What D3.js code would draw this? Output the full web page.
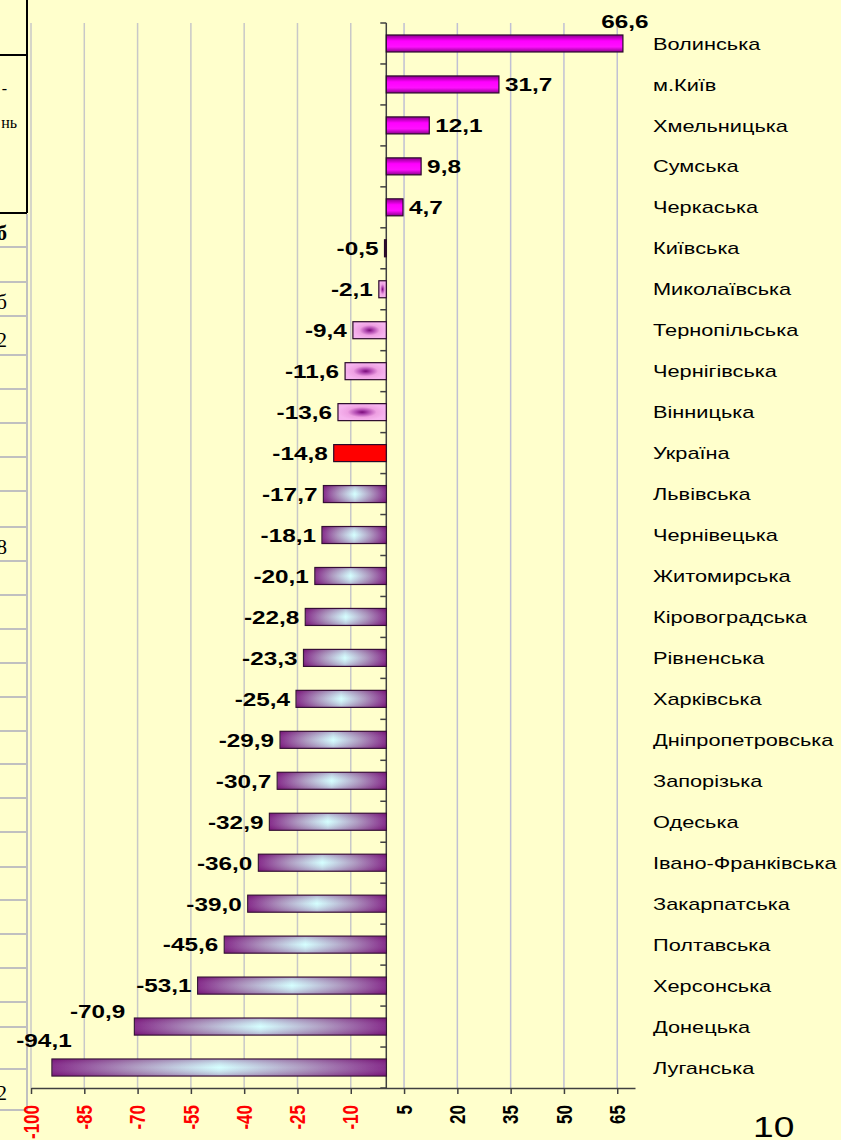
<!DOCTYPE html>
<html>
<head>
<meta charset="utf-8">
<script src="https://cdn.jsdelivr.net/npm/d3@7"></script>
<style>
  body { margin: 0; background: #ffffcc; }
  svg { display: block; }
  text { font-family: "Liberation Sans", Arial, sans-serif; }
</style>
</head>
<body>
<div id="chart"></div>
<script>
// Data
const regions = ["Волинська", "м.Київ", "Хмельницька", "Сумська", "Черкаська", "Київська",
  "Миколаївська", "Тернопільська", "Чернігівська", "Вінницька", "Україна", "Львівська",
  "Чернівецька", "Житомирська", "Кіровоградська", "Рівненська", "Харківська",
  "Дніпропетровська", "Запорізька", "Одеська", "Івано-Франківська", "Закарпатська",
  "Полтавська", "Херсонська", "Донецька", "Луганська"];
const changes = [66.6, 31.7, 12.1, 9.8, 4.7, -0.5, -2.1, -9.4, -11.6, -13.6, -14.8, -17.7,
  -18.1, -20.1, -22.8, -23.3, -25.4, -29.9, -30.7, -32.9, -36.0, -39.0, -45.6, -53.1,
  -70.9, -94.1];
const xTicks = [-100, -85, -70, -55, -40, -25, -10, 5, 20, 35, 50, 65];
const slideNumber = "10";

// fragments of a cut-off table on the left edge of the slide
const tableText = ["-", "нь", "б", "б", "2", "8", "2"];
const tableTextRows = [88, 122, 233, 302, 340, 547, 1093];
const tableRowLines = [247, 282, 316, 355, 389, 423, 457, 491, 527, 561, 595, 629, 663,
  697, 731, 764, 798, 832, 867, 900, 934, 968, 1002, 1027, 1069, 1110];

// Constants
const W = 841, H = 1140;
const plotTop = 23, plotBottom = 1088;
const STRETCH = 1.28; // slide text is stretched horizontally

const data = regions.map((r, i) => ({ name: r, value: changes[i] }));

const svg = d3.select("#chart").append("svg")
  .attr("width", W).attr("height", H)
  .style("background", "#ffffcc");

const defs = svg.append("defs");

// magenta bars (positive)
const gPos = defs.append("linearGradient").attr("id", "gPos")
  .attr("x1", 0).attr("y1", 0).attr("x2", 0).attr("y2", 1);
[[0, "#8a008a"], [0.35, "#ff00ff"], [0.7, "#ff10ff"], [1, "#8a008a"]].forEach(s =>
  gPos.append("stop").attr("offset", s[0]).attr("stop-color", s[1]));

// pink bars with dark centre
const gPink = defs.append("radialGradient").attr("id", "gPink")
  .attr("cx", 0.5).attr("cy", 0.5).attr("r", 0.5);
[[0, "#7a0a7a"], [0.25, "#b048b0"], [0.6, "#eea0e2"], [1, "#f6b4ee"]].forEach(s =>
  gPink.append("stop").attr("offset", s[0]).attr("stop-color", s[1]));

// purple -> cyan -> purple bars
const gNeg = defs.append("linearGradient").attr("id", "gNeg")
  .attr("x1", 0).attr("y1", 0).attr("x2", 1).attr("y2", 0);
[[0, "#780878"], [0.25, "#a88cb8"], [0.5, "#d4ffff"], [0.75, "#a88cb8"], [1, "#780878"]].forEach(s =>
  gNeg.append("stop").attr("offset", s[0]).attr("stop-color", s[1]));
const gShade = defs.append("linearGradient").attr("id", "gShade")
  .attr("x1", 0).attr("y1", 0).attr("x2", 0).attr("y2", 1);
[[0, "rgba(110,30,110,0.35)"], [0.5, "rgba(220,255,255,0.15)"], [1, "rgba(110,30,110,0.35)"]].forEach(s =>
  gShade.append("stop").attr("offset", s[0]).attr("stop-color", s[1]));

//-----------------------------SCALES-----------------------------//
const x = d3.scaleLinear().domain([-100, 70]).range([31, 635]);
const y = d3.scaleBand().domain(regions).range([plotTop, plotBottom]).paddingInner(0).paddingOuter(0);
const barH = 17;
const fmt = v => d3.format(".1f")(v).replace(".", ",").replace("\u2212", "-");

function stretchedText(g, px, py, rot) {
  return g.append("text")
    .attr("transform", `translate(${px},${py}) scale(${STRETCH},1)` + (rot ? ` rotate(${rot})` : ""));
}

//--------------------------LEFT TABLE----------------------------//
const tbl = svg.append("g");
tbl.append("line").attr("x1", 27).attr("x2", 27).attr("y1", 0).attr("y2", 213)
  .attr("stroke", "#000").attr("stroke-width", 2);
tbl.append("line").attr("x1", 0).attr("x2", 27).attr("y1", 55).attr("y2", 55)
  .attr("stroke", "#000").attr("stroke-width", 2);
tbl.append("line").attr("x1", 0).attr("x2", 27).attr("y1", 213).attr("y2", 213)
  .attr("stroke", "#000").attr("stroke-width", 2);
tbl.append("line").attr("x1", 27).attr("x2", 27).attr("y1", 214).attr("y2", 1111)
  .attr("stroke", "#c0c0c0").attr("stroke-width", 2);
tbl.selectAll(".row").data(tableRowLines).enter().append("line")
  .attr("x1", 0).attr("x2", 27).attr("y1", d => d).attr("y2", d => d)
  .attr("stroke", "#c0c0c0").attr("stroke-width", 2);
tbl.selectAll(".ttxt").data(tableText).enter().append("text")
  .attr("x", (d, i) => i < 2 ? (i === 0 ? 7 : 17) : 7)
  .attr("y", (d, i) => tableTextRows[i])
  .attr("dy", "0.35em")
  .attr("text-anchor", "end")
  .style("font-family", "'Liberation Serif', 'Times New Roman', serif")
  .style("font-size", (d, i) => i < 2 ? "16px" : "21px")
  .style("font-weight", (d, i) => i === 2 ? "bold" : "normal")
  .text(d => d);

//-----------------------------GRID-----------------------------//
svg.append("g").selectAll("line").data(xTicks).enter().append("line")
  .attr("x1", d => x(d)).attr("x2", d => x(d))
  .attr("y1", plotTop).attr("y2", plotBottom)
  .attr("stroke", d => d < 0 ? "#c8c8c8" : "#c0c0d4")
  .attr("stroke-width", 1.5);

//-----------------------------AXES-----------------------------//
const xAxis = svg.append("g").attr("transform", `translate(0,${plotBottom})`)
  .call(d3.axisBottom(x).tickValues(xTicks).tickSize(6).tickSizeOuter(0).tickFormat(""));
xAxis.select(".domain").attr("stroke", "#404040").attr("stroke-width", 1.5);
xAxis.selectAll(".tick line").attr("stroke", "#404040").attr("stroke-width", 1.5);

xTicks.forEach(t => {
  stretchedText(svg, x(t), 1105, -90)
    .attr("dy", "0.35em")
    .attr("text-anchor", "end")
    .style("font-size", "17px")
    .style("font-weight", "bold")
    .style("fill", t < 0 ? "#ff0000" : "#000")
    .text(t);
});

// vertical axis at zero with ticks between categories
const bounds = regions.map(r => y(r)).concat([plotBottom]);
svg.append("line").attr("x1", x(0)).attr("x2", x(0)).attr("y1", plotTop).attr("y2", plotBottom)
  .attr("stroke", "#404040").attr("stroke-width", 1.5);
svg.append("g").selectAll("line").data(bounds).enter().append("line")
  .attr("x1", x(0) - 6).attr("x2", x(0))
  .attr("y1", d => d).attr("y2", d => d)
  .attr("stroke", "#404040").attr("stroke-width", 1.5);

//-----------------------------BARS-----------------------------//
function fillFor(d) {
  if (d.value > 0) return "url(#gPos)";
  if (d.name === "Україна") return "#ff0000";
  if (d.value > -1) return "#301030";
  if (d.value > -15) return "url(#gPink)";
  return "url(#gNeg)";
}

const bars = svg.append("g").selectAll("g").data(data).enter().append("g");
bars.append("rect")
  .attr("x", d => Math.min(x(0), x(d.value)))
  .attr("y", d => y(d.name) + y.bandwidth() / 2 - barH / 2)
  .attr("width", d => Math.abs(x(d.value) - x(0)))
  .attr("height", barH)
  .attr("fill", fillFor)
  .attr("stroke", "#2a0a2a")
  .attr("stroke-width", 1.2);
bars.filter(d => d.value <= -15 && d.name !== "Україна").append("rect")
  .attr("x", d => x(d.value))
  .attr("y", d => y(d.name) + y.bandwidth() / 2 - barH / 2)
  .attr("width", d => x(0) - x(d.value))
  .attr("height", barH)
  .attr("fill", "url(#gShade)");

//---------------------------LABELS-----------------------------//
// labels that were moved by hand on the slide
const labelMoves = {
  "Волинська": { dx: 2, dy: -22, anchor: "middle" },
  "Донецька": { dx: -9, dy: -15, anchor: "end" },
  "Луганська": { dx: -8, dy: -27, anchor: "middle" }
};

data.forEach(d => {
  const cy = y(d.name) + y.bandwidth() / 2;
  const end = x(d.value);
  const mv = labelMoves[d.name];
  let px, py, anchor;
  if (mv) {
    px = end + mv.dx; py = cy + mv.dy; anchor = mv.anchor;
  } else if (d.value >= 0) {
    px = end + 6; py = cy; anchor = "start";
  } else {
    px = end - 6; py = cy; anchor = "end";
  }
  stretchedText(svg, px, py)
    .attr("dy", "0.36em")
    .attr("text-anchor", anchor)
    .style("font-size", "19px")
    .style("font-weight", "bold")
    .style("fill", "#000")
    .text(fmt(d.value));

  stretchedText(svg, 653, cy)
    .attr("dy", "0.36em")
    .style("font-size", "17px")
    .style("fill", "#000")
    .text(d.name);
});

// slide number
stretchedText(svg, 753, 1137)
  .style("font-size", "29px")
  .style("fill", "#000")
  .text(slideNumber);
</script>
</body>
</html>
